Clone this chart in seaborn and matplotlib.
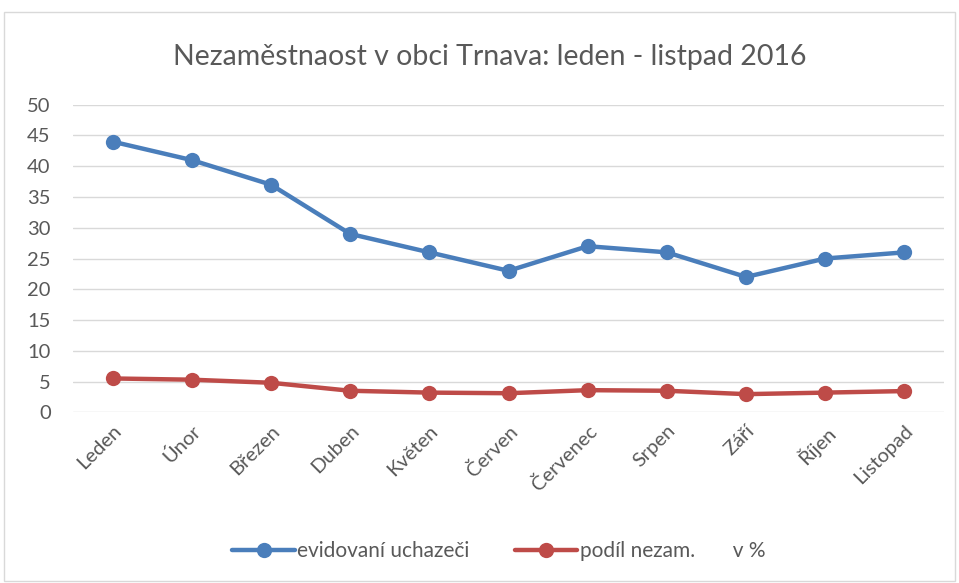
import pandas as pd
import matplotlib.pyplot as plt
import seaborn as sns
from matplotlib.patches import Rectangle

months = ['Leden', 'Únor', 'Březen', 'Duben', 'Květen', 'Červen',
          'Červenec', 'Srpen', 'Září', 'Říjen', 'Listopad']
uchazeci = [44, 41, 37, 29, 26, 23, 27, 26, 22, 25, 26]
podil = [5.5, 5.3, 4.8, 3.5, 3.2, 3.1, 3.6, 3.5, 2.95, 3.2, 3.45]
series_names = ['evidovaní uchazeči', 'podíl nezam.       v %']
colors = ['#4A7EBB', '#BE4B48']

df = pd.DataFrame({
    'mesic': months * 2,
    'hodnota': uchazeci + podil,
    'serie': [series_names[0]] * len(months) + [series_names[1]] * len(months),
})

sns.set_style('white')
plt.rcParams['font.family'] = ['Lato', 'DejaVu Sans']

fig = plt.figure(figsize=(9.59, 5.83), dpi=100)
fig.patches.append(Rectangle((0.004, 0.004), 0.992, 0.975, transform=fig.transFigure,
                             fill=False, edgecolor='#D9D9D9', linewidth=1))
ax = fig.add_axes([0.0761, 0.2928, 0.9083, 0.5276])

sns.lineplot(data=df, x='mesic', y='hodnota', hue='serie', palette=colors,
             marker='o', markersize=11, markeredgewidth=0, linewidth=3.2,
             sort=False, ax=ax)

ax.set_xlim(-0.5, len(months) - 0.5)
ax.set_ylim(0, 50)
ax.set_yticks(range(0, 51, 5))
ax.yaxis.grid(True, color='#D9D9D9', linewidth=1)
for s in ax.spines.values():
    s.set_visible(False)
ax.tick_params(axis='both', length=0, colors='#595959', labelsize=14.5, pad=7)
ax.tick_params(axis='y', pad=16)
plt.setp(ax.get_xticklabels(), rotation=45, ha='right', rotation_mode='anchor')
ax.set_xlabel('')
ax.set_ylabel('')

fig.text(0.511, 0.902, 'Nezaměstnaost v obci Trnava: leden - listpad 2016',
         ha='center', va='center', fontsize=20.5, color='#595959')

handles, labels = ax.get_legend_handles_labels()
ax.legend(handles, labels, loc='center', bbox_to_anchor=(0.52, 0.055),
          bbox_transform=fig.transFigure, ncol=2, frameon=False,
          fontsize=15, labelcolor='#595959', handlelength=3.0,
          handletextpad=0.1, columnspacing=2.2)

fig.savefig('out.png', dpi=100)
